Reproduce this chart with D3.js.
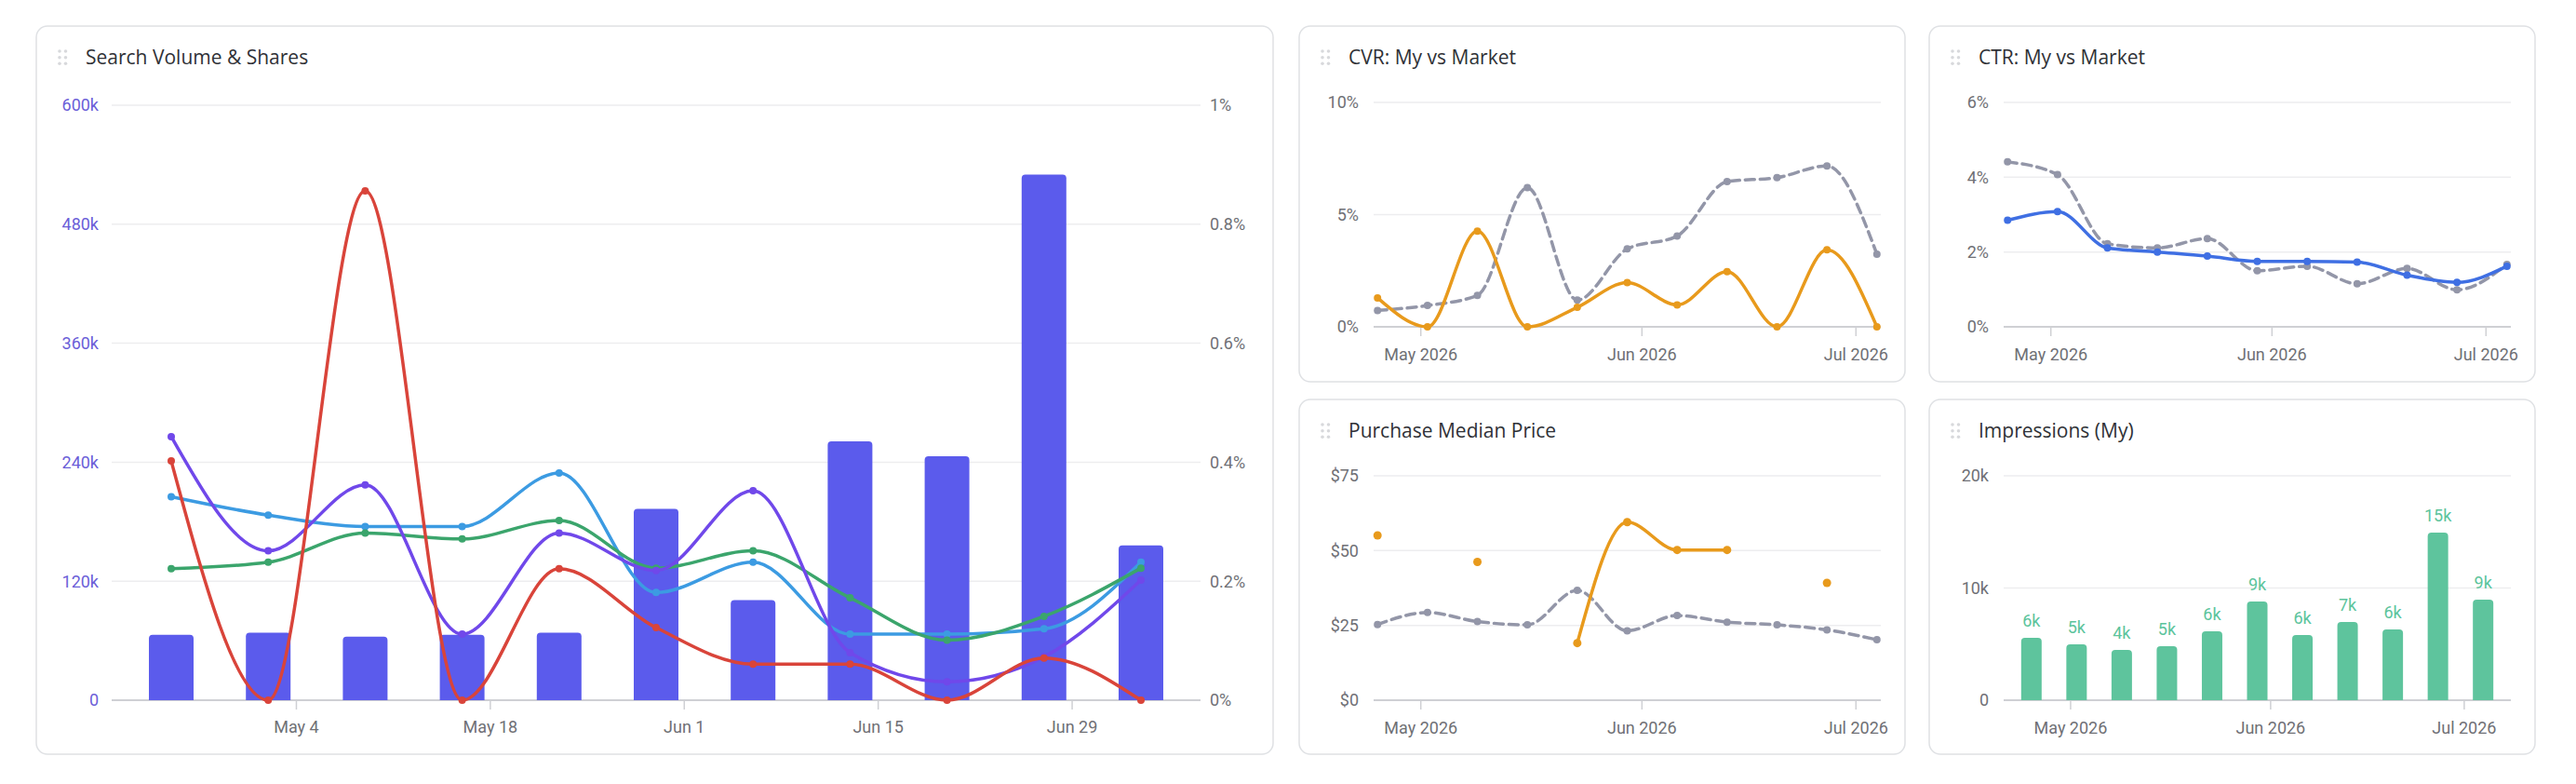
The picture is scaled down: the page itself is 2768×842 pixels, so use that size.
<!DOCTYPE html>
<html>
<head>
<meta charset="utf-8">
<script src="https://cdn.jsdelivr.net/npm/d3@7"></script>
<style>
body { margin: 0; background: #fff; }
text { font-family: Roboto, "Open Sans", sans-serif; }
.title { font-family: "Open Sans", sans-serif; font-weight: 500; font-size: 21px; fill: #2f3136; }
.tick text { font-size: 18px; fill: #6f7075; }
</style>
</head>
<body>
<svg id="chart" width="2768" height="842"></svg>
<script>
// weekly points
var dates = ["2026-04-25","2026-05-02","2026-05-09","2026-05-16","2026-05-23","2026-05-30",
             "2026-06-06","2026-06-13","2026-06-20","2026-06-27","2026-07-04"];

// Search Volume & Shares
var searchVolume   = [66000, 68000, 64000, 66000, 68000, 193000, 101000, 261000, 246000, 530000, 156000];
var impressionShare = [0.443, 0.251, 0.362, 0.111, 0.281, 0.218, 0.352, 0.080, 0.031, 0.073, 0.202];
var clickShare      = [0.342, 0.311, 0.292, 0.292, 0.382, 0.181, 0.232, 0.111, 0.111, 0.120, 0.232];
var cartShare       = [0.221, 0.232, 0.281, 0.271, 0.302, 0.222, 0.251, 0.172, 0.101, 0.141, 0.222];
var purchaseShare   = [0.402, 0, 0.856, 0, 0.221, 0.122, 0.0605, 0.0605, 0, 0.071, 0];
var mainTicks = ["2026-05-04","2026-05-18","2026-06-01","2026-06-15","2026-06-29"];
var volumeTicks = [0, 120000, 240000, 360000, 480000, 600000];
var shareTicks = [0, 0.2, 0.4, 0.6, 0.8, 1];

// CVR
var cvrMy     = [1.29, 0, 4.26, 0, 0.87, 1.97, 0.98, 2.46, 0, 3.43, 0];
var cvrMarket = [0.73, 0.95, 1.40, 6.20, 1.19, 3.47, 4.05, 6.47, 6.65, 7.17, 3.24];
var cvrTicks = [0, 5, 10];

// CTR
var ctrMy     = [2.85, 3.08, 2.11, 2.00, 1.89, 1.75, 1.75, 1.73, 1.38, 1.19, 1.62];
var ctrMarket = [4.41, 4.07, 2.22, 2.11, 2.36, 1.50, 1.62, 1.15, 1.56, 0.99, 1.67];
var ctrTicks = [0, 2, 4, 6];

// Purchase Median Price
var priceMy     = [55.1, null, 46.2, null, 19.1, 59.5, 50.2, 50.2, null, 39.2, null];
var priceMarket = [25.3, 29.3, 26.3, 25.2, 36.7, 23.2, 28.3, 26.1, 25.2, 23.5, 20.2];
var priceTicks = [0, 25, 50, 75];

// Impressions
var impressions = [5550, 4980, 4480, 4810, 6140, 8800, 5810, 6970, 6310, 14940, 8960];
var impTicks = [0, 10000, 20000];

var monthTicks = ["2026-05-01","2026-06-01","2026-07-01"];

var parse = d3.timeParse("%Y-%m-%d");
var days = dates.map(parse);
var DAY = 864e5;
var svg = d3.select("#chart");

function card(x, y, w, h, title) {
  var g = svg.append("g").attr("transform", "translate(" + x + "," + y + ")");
  g.append("rect").attr("width", w).attr("height", h).attr("rx", 12)
    .attr("fill", "#fff").attr("stroke", "#dfe1e4").attr("stroke-width", 1.5);
  [25, 31.5].forEach(function(dx) {
    [27, 33.7, 40.3].forEach(function(dy) {
      g.append("circle").attr("cx", dx).attr("cy", dy).attr("r", 1.8).attr("fill", "#d8d9dc");
    });
  });
  g.append("text").attr("class", "title").attr("x", 53).attr("y", 41).text(title);
  return g;
}

function grid(g, y, ticks, x0, x1) {
  g.selectAll(null).data(ticks).enter().append("line")
    .attr("x1", x0).attr("x2", x1)
    .attr("y1", function(d) { return y(d); }).attr("y2", function(d) { return y(d); })
    .attr("stroke", function(d) { return d === 0 ? "#cfd0d4" : "#ededef"; })
    .attr("stroke-width", function(d) { return d === 0 ? 2 : 1.5; });
}

function yLabels(g, y, ticks, fmt, lx, anchor, color) {
  g.selectAll(null).data(ticks).enter().append("text")
    .attr("x", lx).attr("y", function(d) { return y(d); }).attr("dy", "0.35em")
    .attr("text-anchor", anchor).attr("font-size", 18).attr("fill", color)
    .text(fmt);
}

function xAxis(g, x, ticks, fmt, y0, pad) {
  var ax = g.append("g").attr("transform", "translate(0," + y0 + ")")
    .call(d3.axisBottom(x).tickValues(ticks.map(parse)).tickFormat(d3.timeFormat(fmt))
      .tickSize(10).tickPadding(pad));
  ax.select(".domain").remove();
  ax.selectAll(".tick line").attr("stroke", "#cfd0d4").attr("stroke-width", 1.5);
}

function topRounded(x, y, w, h, r) {
  r = Math.min(r, h);
  return "M" + x + "," + (y + h) + "V" + (y + r) + "Q" + x + "," + y + " " + (x + r) + "," + y +
    "H" + (x + w - r) + "Q" + (x + w) + "," + y + " " + (x + w) + "," + (y + r) + "V" + (y + h) + "Z";
}

function drawLine(g, x, y, values, color, dashed, width, r) {
  var pts = values.map(function(v, i) { return {date: days[i], v: v}; });
  var line = d3.line().defined(function(d) { return d.v !== null; })
    .x(function(d) { return x(d.date); }).y(function(d) { return y(d.v); })
    .curve(d3.curveMonotoneX);
  g.append("path").datum(pts).attr("d", line).attr("fill", "none")
    .attr("stroke", color).attr("stroke-width", width)
    .attr("stroke-dasharray", dashed ? "10,6" : null)
    .attr("stroke-linecap", "round");
  g.selectAll(null).data(pts.filter(function(d) { return d.v !== null; })).enter().append("circle")
    .attr("cx", function(d) { return x(d.date); }).attr("cy", function(d) { return y(d.v); })
    .attr("r", r).attr("fill", color);
}

// ---- main chart ----
var mg = card(39, 28, 1329, 782, "Search Volume & Shares");
var mx = d3.scaleTime().domain([+days[0] - 4.3 * DAY, +days[10] + 4.3 * DAY]).range([81, 1251]);
var yVol = d3.scaleLinear().domain([0, 600000]).range([724, 85]);
var yShare = d3.scaleLinear().domain([0, 1]).range([724, 85]);
grid(mg, yVol, volumeTicks, 81, 1251);
yLabels(mg, yVol, volumeTicks, function(d) { return d === 0 ? "0" : d / 1000 + "k"; }, 67, "end", "#6b5ed8");
yLabels(mg, yShare, shareTicks, function(d) { return d + "%"; }, 1261, "start", "#6f7075");
xAxis(mg, mx, mainTicks, "%b %-d", 724, 12);

mg.selectAll(".bar").data(searchVolume).enter().append("path").attr("class", "bar")
  .attr("d", function(d, i) { return topRounded(mx(days[i]) - 24, yVol(d), 48, 724 - yVol(d), 4); })
  .attr("fill", "#5b5bec");

drawLine(mg, mx, yShare, clickShare, "#3c9be2", false, 3.5, 4);
drawLine(mg, mx, yShare, cartShare, "#3ba56c", false, 3.5, 4);
drawLine(mg, mx, yShare, impressionShare, "#7048ea", false, 3.5, 4);
drawLine(mg, mx, yShare, purchaseShare, "#d9443a", false, 3.5, 4);

// ---- small charts ----
function small(cx, cy, h, title, maxV, ticks, fmt, barPad) {
  var g = card(cx, cy, 651, h, title);
  var pad = barPad ? 4.3 : 0.55;
  var x = d3.scaleTime().domain([+days[0] - pad * DAY, +days[10] + pad * DAY]).range([80, 625]);
  var y = d3.scaleLinear().domain([0, maxV]).range([323, 82]);
  grid(g, y, ticks, 80, 625);
  yLabels(g, y, ticks, fmt, 64, "end", "#6f7075");
  xAxis(g, x, monthTicks, "%b %Y", 323, 13);
  return {g: g, x: x, y: y};
}

var cvr = small(1396, 28, 382, "CVR: My vs Market", 10, cvrTicks, function(d) { return d + "%"; }, false);
drawLine(cvr.g, cvr.x, cvr.y, cvrMarket, "#9396a8", true, 3.5, 4);
drawLine(cvr.g, cvr.x, cvr.y, cvrMy, "#e89a1c", false, 3.5, 4);

var ctr = small(2073, 28, 382, "CTR: My vs Market", 6, ctrTicks, function(d) { return d + "%"; }, false);
drawLine(ctr.g, ctr.x, ctr.y, ctrMarket, "#9396a8", true, 3.5, 4);
drawLine(ctr.g, ctr.x, ctr.y, ctrMy, "#3f6fe3", false, 3.5, 4);

var price = small(1396, 429, 381, "Purchase Median Price", 75, priceTicks, function(d) { return "$" + d; }, false);
drawLine(price.g, price.x, price.y, priceMarket, "#9396a8", true, 3.5, 4);
drawLine(price.g, price.x, price.y, priceMy, "#e89a1c", false, 3.5, 4.5);

var imp = small(2073, 429, 381, "Impressions (My)", 20000, impTicks, function(d) { return d === 0 ? "0" : d / 1000 + "k"; }, true);
imp.g.selectAll(".bar").data(impressions).enter().append("path").attr("class", "bar")
  .attr("d", function(d, i) { return topRounded(imp.x(days[i]) - 11, imp.y(d), 22, 323 - imp.y(d), 4); })
  .attr("fill", "#5ec49d");
imp.g.selectAll(".lbl").data(impressions).enter().append("text").attr("class", "lbl")
  .attr("x", function(d, i) { return imp.x(days[i]); })
  .attr("y", function(d) { return imp.y(d) - 12; })
  .attr("text-anchor", "middle").attr("font-size", 18).attr("fill", "#5cc49c")
  .text(function(d) { return Math.round(d / 1000) + "k"; });
</script>
</body>
</html>
